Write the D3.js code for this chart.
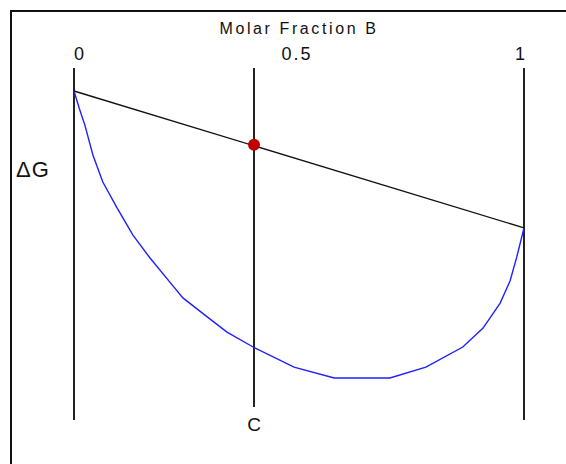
<!DOCTYPE html>
<html>
<head>
<meta charset="utf-8">
<script src="https://cdn.jsdelivr.net/npm/d3@7"></script>
<style>
  body { margin: 0; background: #fff; }
  svg text { font-family: "Liberation Sans", Arial, sans-serif; fill: #111; }
</style>
</head>
<body>
<svg id="chart" width="566" height="464"></svg>
<script>
// molar fraction of B along the free energy of mixing curve
var fractionB = [0, 0.012, 0.024, 0.042, 0.064, 0.096, 0.131, 0.169, 0.213, 0.242, 0.296, 0.34,
                 0.398, 0.489, 0.578, 0.702, 0.782, 0.864, 0.909, 0.947, 0.969, 0.984, 1];
// deltaG (arbitrary units) at each fraction
var deltaG = [0, -0.62, -1.18, -2.23, -3.17, -4.08, -5.02, -5.82, -6.66, -7.21, -7.87, -8.4,
              -8.92, -9.62, -10, -10, -9.62, -8.92, -8.26, -7.39, -6.62, -5.78, -4.77];
// tie line between pure A and pure B
var tieFraction = [0, 1];
var tieG = [0, -4.77];
// overall composition C and its point on the tie line
var compC = 0.4;
var compG = -1.87;
var tickValues = [0, 0.5, 1];
var tickLabels = ["0", "0.5", "1"];
var guideValues = [0, 1];

var svg = d3.select("#chart");

var x = d3.scaleLinear().domain([0, 1]).range([74, 524]);
var y = d3.scaleLinear().domain([0, -10]).range([91, 378]);

var guideTop = 68, guideBottom = 420, cBottom = 407;

// outer frame (runs off the right and bottom edges)
svg.append("rect")
    .attr("x", 11)
    .attr("y", 11)
    .attr("width", 600)
    .attr("height", 500)
    .attr("fill", "none")
    .attr("stroke", "#111")
    .attr("stroke-width", 2);

// pure A / pure B verticals
svg.selectAll(".guide")
    .data(guideValues)
    .enter().append("line")
    .attr("class", "guide")
    .attr("x1", function(d) { return x(d); })
    .attr("x2", function(d) { return x(d); })
    .attr("y1", guideTop)
    .attr("y2", guideBottom)
    .attr("stroke", "#222")
    .attr("stroke-width", 2);

// composition line C
svg.append("line")
    .attr("x1", x(compC))
    .attr("x2", x(compC))
    .attr("y1", guideTop)
    .attr("y2", cBottom)
    .attr("stroke", "#222")
    .attr("stroke-width", 2);

var curve = fractionB.map(function(f, i) { return [f, deltaG[i]]; });
var tie = tieFraction.map(function(f, i) { return [f, tieG[i]]; });

var line = d3.line()
    .x(function(d) { return x(d[0]); })
    .y(function(d) { return y(d[1]); });

svg.append("path")
    .datum(curve)
    .attr("d", line)
    .attr("fill", "none")
    .attr("stroke", "#1f1fff")
    .attr("stroke-width", 1.4);

svg.append("path")
    .datum(tie)
    .attr("d", line)
    .attr("fill", "none")
    .attr("stroke", "#111")
    .attr("stroke-width", 1.4);

svg.append("circle")
    .attr("cx", x(compC))
    .attr("cy", y(compG))
    .attr("r", 6)
    .attr("fill", "#c00000");

// labels
svg.append("text")
    .attr("x", x(0.5))
    .attr("y", 34)
    .attr("text-anchor", "middle")
    .style("font-size", "16px")
    .style("letter-spacing", "2.6px")
    .text("Molar Fraction  B");

var tickDx = [6, -2, -3];
svg.selectAll(".tick")
    .data(tickValues)
    .enter().append("text")
    .attr("class", "tick")
    .attr("x", function(d, i) { return x(d) + tickDx[i]; })
    .attr("y", 60)
    .attr("text-anchor", "middle")
    .style("font-size", "18px")
    .style("letter-spacing", "2px")
    .text(function(d, i) { return tickLabels[i]; });

svg.append("text")
    .attr("x", 16)
    .attr("y", 177)
    .style("font-size", "22px")
    .style("letter-spacing", "1px")
    .text("ΔG");

svg.append("text")
    .attr("x", x(compC))
    .attr("y", 431)
    .attr("text-anchor", "middle")
    .style("font-size", "19px")
    .text("C");
</script>
</body>
</html>
